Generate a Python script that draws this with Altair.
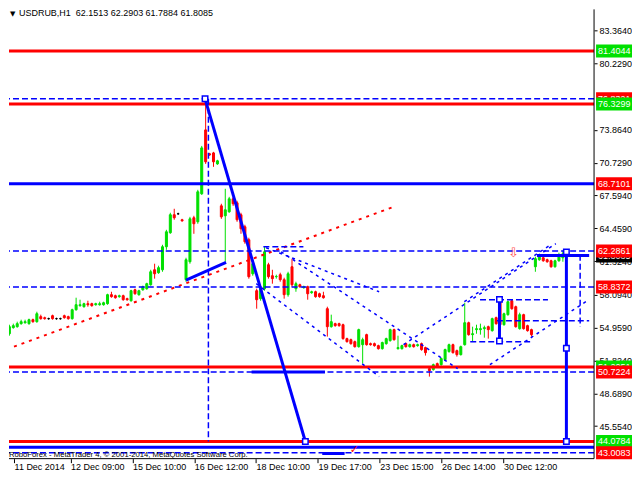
import altair as alt
import pandas as pd

# ---------------- candle data (USDRUB, bar index 0..142) ----------------
opens = [
    54.38, 54.96, 55.05, 55.34, 55.43, 55.34, 55.72, 55.53, 56.01, 55.91,
    55.82, 56.10, 55.82, 55.82, 56.10, 56.01, 55.82, 56.67, 57.06, 56.96,
    57.25, 57.25, 57.15, 57.15, 57.15, 57.25, 58.11, 58.01, 57.92, 58.01,
    57.73, 57.53, 58.58, 58.11, 58.58, 58.68, 59.06, 60.49, 60.21, 60.49,
    62.69, 64.03, 65.75, 65.84, 65.27, 59.54, 61.26, 65.46, 65.08, 67.75,
    73.86, 71.57, 71.66, 70.61, 66.60, 65.65, 66.03, 67.27, 66.89, 65.75,
    64.60, 63.36, 60.11, 58.49, 57.73, 58.68, 60.97, 59.92, 59.83, 60.02,
    59.54, 58.11, 60.78, 58.68, 59.06, 58.78, 58.87, 58.30, 58.39, 58.20,
    58.01, 56.77, 55.05, 55.34, 55.34, 55.24, 53.91, 53.81, 53.62, 53.14,
    53.33, 54.29, 53.43, 53.43, 53.24, 52.95, 53.43, 53.72, 54.77, 52.95,
    52.95, 53.43, 53.14, 53.33, 53.24, 53.43, 53.05, 51.04, 50.95, 51.52,
    51.42, 51.90, 52.67, 53.33, 52.76, 52.38, 53.33, 55.43, 54.29, 54.77,
    54.77, 54.86, 55.05, 54.67, 55.91, 57.63, 55.24, 56.20, 57.53, 56.96,
    54.86, 56.20, 55.15, 54.77, 60.78, 61.45, 61.64, 61.45, 61.35, 60.78,
    61.35, 61.64, 62.1513,
]
closes = [
    55.05, 55.15, 55.34, 55.53, 55.53, 55.72, 55.53, 56.29, 55.82, 55.82,
    55.82, 55.82, 55.82, 55.82, 55.91, 55.82, 56.67, 57.15, 57.15, 57.25,
    57.15, 57.06, 57.25, 57.25, 57.34, 58.11, 57.92, 57.82, 58.01, 57.63,
    57.63, 58.49, 58.20, 58.49, 58.87, 59.16, 60.30, 60.11, 60.69, 62.69,
    64.12, 65.75, 65.46, 65.84, 65.17, 61.45, 65.36, 64.89, 67.94, 72.14,
    70.81, 71.47, 70.81, 70.90, 65.55, 66.22, 67.27, 66.80, 65.27, 64.41,
    63.17, 59.83, 61.07, 57.63, 58.68, 62.21, 59.83, 59.64, 59.85, 59.54,
    58.11, 60.11, 59.06, 59.16, 58.87, 58.87, 58.20, 58.39, 57.92, 57.92,
    57.82, 55.05, 55.53, 55.15, 55.15, 53.91, 53.62, 53.43, 53.14, 54.77,
    53.81, 53.33, 53.33, 53.24, 52.95, 53.53, 53.91, 54.77, 53.81, 53.05,
    53.24, 53.14, 53.33, 53.14, 53.33, 52.86, 52.57, 50.85, 51.42, 51.23,
    52.00, 52.86, 53.33, 52.57, 52.38, 53.14, 55.43, 54.29, 54.38, 54.86,
    54.86, 54.96, 54.77, 55.82, 55.34, 55.24, 56.29, 57.44, 56.77, 55.05,
    56.20, 54.86, 54.67, 54.29, 61.55, 61.74, 61.35, 61.26, 60.78, 61.35,
    61.93, 62.02, 61.8085,
]
highs = [
    55.24, 55.34, 55.53, 55.72, 55.72, 55.82, 55.82, 56.48, 56.20, 56.01,
    55.91, 56.20, 55.91, 55.91, 56.20, 56.10, 56.77, 57.82, 57.63, 57.34,
    57.53, 57.34, 57.34, 57.44, 57.44, 58.20, 58.39, 58.11, 58.11, 58.11,
    57.82, 58.58, 58.68, 58.58, 58.97, 59.25, 60.49, 61.07, 60.88, 62.88,
    64.31, 65.94, 66.32, 65.94, 65.36, 61.64, 65.55, 65.65, 68.13, 72.33,
    76.82, 71.66, 71.76, 71.00, 66.80, 68.23, 67.46, 67.46, 67.08, 65.94,
    64.79, 63.55, 61.45, 58.68, 58.87, 62.69, 61.16, 60.49, 60.02, 60.21,
    59.73, 60.30, 61.55, 59.35, 59.16, 58.97, 58.97, 58.49, 58.49, 58.30,
    58.39, 56.96, 56.20, 55.43, 55.43, 55.34, 54.00, 53.91, 53.72, 54.86,
    54.00, 54.38, 53.53, 53.53, 53.33, 53.62, 54.00, 54.86, 54.86, 54.19,
    53.33, 53.53, 53.43, 53.43, 53.43, 53.53, 53.14, 51.23, 51.52, 51.62,
    52.10, 52.95, 53.43, 53.43, 52.86, 53.24, 57.34, 55.53, 55.05, 55.24,
    55.34, 55.15, 55.15, 55.91, 56.01, 57.73, 56.39, 57.53, 57.63, 57.06,
    56.39, 56.29, 55.24, 54.86, 61.74, 61.93, 61.74, 61.55, 61.45, 61.45,
    62.12, 62.31, 62.2903,
]
lows = [
    54.19, 54.86, 54.96, 55.24, 55.34, 55.24, 55.43, 55.43, 55.72, 55.72,
    55.72, 55.72, 55.72, 55.72, 55.82, 55.72, 55.72, 56.58, 56.96, 56.87,
    56.96, 56.96, 57.06, 57.06, 57.06, 57.15, 57.82, 57.73, 57.82, 57.53,
    57.53, 57.44, 58.11, 58.01, 58.49, 58.58, 58.97, 59.64, 60.11, 60.30,
    62.40, 63.93, 65.27, 65.75, 65.08, 59.35, 61.07, 63.93, 64.89, 67.65,
    70.61, 71.38, 70.33, 70.52, 65.36, 61.26, 65.94, 66.60, 65.08, 63.93,
    62.98, 59.64, 59.92, 56.77, 57.53, 58.49, 59.64, 59.16, 59.64, 59.35,
    57.73, 57.92, 58.87, 58.39, 58.78, 58.68, 57.63, 58.20, 57.82, 57.82,
    57.73, 54.10, 54.96, 55.05, 55.05, 53.81, 53.53, 53.33, 53.05, 53.05,
    51.52, 53.24, 53.24, 53.14, 52.86, 52.86, 53.33, 53.62, 53.72, 52.86,
    52.86, 53.05, 53.05, 53.05, 53.14, 52.76, 52.29, 50.28, 50.85, 51.14,
    51.33, 51.81, 52.57, 52.48, 52.19, 52.29, 53.24, 54.19, 53.62, 54.38,
    54.29, 54.00, 53.91, 54.58, 55.24, 54.58, 55.15, 56.10, 56.67, 54.96,
    54.77, 54.77, 54.58, 54.10, 60.30, 61.35, 61.26, 61.16, 60.69, 60.69,
    61.26, 61.26, 61.7884,
]
assert len(opens) == len(closes) == len(highs) == len(lows)

# x-axis time labels placed at bar positions
time_labels = ["11 Dec 2014", "12 Dec 09:00", "15 Dec 10:00", "16 Dec 12:00",
               "18 Dec 10:00", "19 Dec 17:00", "23 Dec 15:00", "26 Dec 14:00",
               "30 Dec 12:00"]
time_label_bars = [1.2, 15.6, 31.35, 47.1, 62.85, 78.6, 94.35, 110.1, 125.85]

# right price scale ticks
price_ticks = [83.364, 80.229, 73.864, 70.729, 67.594, 64.459, 61.324, 58.094,
               54.959, 51.824, 48.689, 45.554, 42.419]

# horizontal levels
red_levels = [81.4044, 76.3299, 51.2051, 44.0784]
blue_solid_levels = [68.7101, 43.52]
blue_dash_levels = [76.8321, 62.2861, 58.8372, 50.7224, 43.0083]

# price-tag boxes on the right scale (drawn in two passes)
tags_back_values = [76.8321, 61.8085, 51.2051]
tags_back_kind = ["blue", "black", "red"]
tags_front_values = [81.4044, 76.3299, 68.7101, 62.2861, 58.8372, 50.7224, 44.0784, 43.0083]
tags_front_kind = ["red", "red", "blue", "blue", "blue", "blue", "red", "blue"]

# analysis objects: (bar1, price1, bar2, price2)
thick_segments = [
    (49.85, 76.83, 75.4, 44.08),
    (45.0, 59.51, 55.2, 61.19),
    (61.7, 50.72, 80.4, 50.72),
    (141.9, 62.20, 141.9, 44.08),
    (134.4, 61.85, 147.7, 61.85),
    (124.85, 57.66, 124.85, 53.69),
    (79.7, 42.93, 85.4, 42.93),
]
dotted_segments = [
    (69.2, 62.21, 114.2, 51.04),
    (62.9, 59.16, 94.2, 50.28),
    (65.4, 62.59, 94.2, 58.39),
    (100.4, 53.33, 139.2, 62.98),
    (115.9, 57.44, 137.9, 62.88),
    (122.4, 51.42, 147.7, 57.65),
]
dashed_segments = [
    (64.7, 62.69, 74.9, 62.69),
    (119.9, 57.63, 137.2, 57.63),
    (124.2, 55.63, 147.7, 55.63),
    (117.4, 53.62, 133.4, 53.62),
    (145.4, 61.93, 145.4, 55.05),
    (50.7, 76.83, 50.7, 44.08),
]
red_trend = [(1.175, 53.14, 97.9, 66.51)]
anchor_bars = [49.85, 75.4, 141.9, 141.9, 141.9, 124.85, 124.85]
anchor_prices = [76.83, 44.08, 62.20, 53.00, 44.08, 57.66, 53.69]

title_text = "USDRUB,H1\u00a0 62.1513 62.2903 61.7884 61.8085"
footer_text = "RoboForex - MetaTrader 4, \u00a9 2001-2014, MetaQuotes Software Corp."

FONT = "Liberation Sans"
BLUE = "#0000ff"
RED = "#ff0000"
GREEN = "#00e000"
PLOT_W, PLOT_H = 586, 450

# ---------------- build ----------------
df = pd.DataFrame({"i": list(range(len(opens))), "open": opens, "high": highs,
                   "low": lows, "close": closes})
df["dir"] = ["up" if c > o else ("down" if c < o else "flat")
             for o, c in zip(opens, closes)]

x_scale = alt.Scale(domain=[1.175, 147.675], nice=False, zero=False)
y_scale = alt.Scale(domain=[42.439, 85.378], nice=False, zero=False)
dir_scale = alt.Scale(domain=["up", "down", "flat"], range=[GREEN, RED, "#000000"])

bars_js = "[" + ",".join(str(v) for v in time_label_bars) + "]"
labels_js = "[" + ",".join("'" + t + "'" for t in time_labels) + "]"
x_axis = alt.Axis(values=time_label_bars,
                  labelExpr=labels_js + "[indexof(" + bars_js + ", datum.value)]",
                  tickSize=4, tickColor="black", labelAlign="left", labelBaseline="top",
                  labelPadding=0, labelFont=FONT, labelFontSize=9,
                  labelColor="black", domain=False, grid=False, labelFlush=False,
                  labelOverlap=False, title=None)
y_axis = alt.Axis(orient="right", values=price_ticks, format=".4f", tickSize=3,
                  tickColor="black", labelPadding=2, labelFont=FONT, labelFontSize=9,
                  labelColor="black", domain=False, grid=False, labelFlush=False,
                  labelOverlap=False, title=None)

base = alt.Chart(df)
wicks = base.mark_rule(strokeWidth=1, clip=True).encode(
    x=alt.X("i:Q", scale=x_scale, axis=x_axis),
    y=alt.Y("low:Q", scale=y_scale, axis=y_axis),
    y2="high:Q",
    color=alt.Color("dir:N", scale=dir_scale, legend=None),
)
bodies = base.mark_bar(width=2, strokeWidth=1, clip=True).encode(
    x="i:Q", y="open:Q", y2="close:Q",
    color=alt.Color("dir:N", scale=dir_scale, legend=None),
    stroke=alt.Stroke("dir:N", scale=dir_scale, legend=None),
)


def seg_df(segs):
    return pd.DataFrame(segs, columns=["i1", "p1", "i2", "p2"])


def seg_layer(segs, color, width, dash=None):
    kw = dict(color=color, strokeWidth=width, strokeCap="butt", clip=True)
    if dash:
        kw["strokeDash"] = dash
    return alt.Chart(seg_df(segs)).mark_rule(**kw).encode(
        x="i1:Q", x2="i2:Q", y="p1:Q", y2="p2:Q")


def level_layer(levels, color, width, dash=None):
    kw = dict(color=color, strokeWidth=width, clip=True)
    if dash:
        kw["strokeDash"] = dash
    return alt.Chart(pd.DataFrame({"v": levels})).mark_rule(**kw).encode(y="v:Q")


red_trend_layer = seg_layer(red_trend, RED, 2, [3, 5])
dash_levels = level_layer(blue_dash_levels, BLUE, 1.5, [6, 3])
red_lines = level_layer(red_levels, RED, 3)
blue_lines = level_layer(blue_solid_levels, BLUE, 3)
dotted = seg_layer(dotted_segments, BLUE, 1.5, [3, 4])
dashed = seg_layer(dashed_segments, BLUE, 1.5, [6, 3])
thick = seg_layer(thick_segments, BLUE, 3)

anchors = alt.Chart(pd.DataFrame({"i": anchor_bars, "p": anchor_prices})).mark_point(
    shape="square", filled=True, fill="white", stroke=BLUE, strokeWidth=1.5,
    size=30, opacity=1, clip=True).encode(x="i:Q", y="p:Q")

arrow = alt.Chart(pd.DataFrame({"i": [128.4], "p": [62.05], "t": ["\u21e9"]})).mark_text(
    color="#ff5050", fontSize=13, font="DejaVu Sans").encode(x="i:Q", y="p:Q", text="t:N")
check = alt.Chart(pd.DataFrame({"i": [87.9], "p": [43.25], "t": ["\u2713"]})).mark_text(
    color=RED, fontSize=11, font="DejaVu Sans").encode(x="i:Q", y="p:Q", text="t:N")

# chart frame: right and bottom edges only (the top and left edges sit outside the page area)
frame_right = alt.Chart(pd.DataFrame({"k": [0]})).mark_rule(color="black", strokeWidth=1).encode(
    x=alt.value(PLOT_W), y=alt.value(0), y2=alt.value(PLOT_H))
frame_bottom = alt.Chart(pd.DataFrame({"k": [0]})).mark_rule(color="black", strokeWidth=1).encode(
    x=alt.value(0), x2=alt.value(PLOT_W), y=alt.value(PLOT_H))

tag_scale = alt.Scale(domain=["red", "blue", "black"], range=[RED, BLUE, "#000000"])


def tag_layers(values, kinds):
    d = pd.DataFrame({"v": values, "k": kinds, "t": ["%.4f" % v for v in values]})
    box = alt.Chart(d).mark_tick(size=36, thickness=13, opacity=1, orient="horizontal").encode(
        y="v:Q", x=alt.value(606),
        color=alt.Color("k:N", scale=tag_scale, legend=None))
    txt = alt.Chart(d).mark_text(align="left", baseline="middle", color="white",
                                 font=FONT, fontSize=9).encode(
        y="v:Q", x=alt.value(590), text="t:N")
    return [box, txt]


title_layer = alt.Chart(pd.DataFrame({"t": [title_text]})).mark_text(
    align="left", baseline="top", font=FONT, fontSize=9, color="black").encode(
    x=alt.value(10), y=alt.value(0), text="t:N")
tri_layer = alt.Chart(pd.DataFrame({"t": ["\u25bc"]})).mark_text(
    align="left", baseline="top", font="DejaVu Sans", fontSize=7, color="black").encode(
    x=alt.value(1), y=alt.value(1), text="t:N")
footer_layer = alt.Chart(pd.DataFrame({"t": [footer_text]})).mark_text(
    align="left", baseline="middle", font=FONT, fontSize=7.7, color="black").encode(
    x=alt.value(0), y=alt.value(446), text="t:N")

layers = ([wicks, bodies, red_trend_layer, dash_levels, red_lines, blue_lines,
           dotted, dashed, thick, anchors, arrow, check, frame_right, frame_bottom]
          + tag_layers(tags_back_values, tags_back_kind)
          + tag_layers(tags_front_values, tags_front_kind)
          + [title_layer, tri_layer, footer_layer])

chart = alt.layer(*layers).properties(
    width=PLOT_W, height=PLOT_H,
    padding=0,
    background="white",
).configure_view(stroke=None).configure_axis(title=None)

chart.save("out.html", embed_options={"renderer": "svg", "actions": False})
